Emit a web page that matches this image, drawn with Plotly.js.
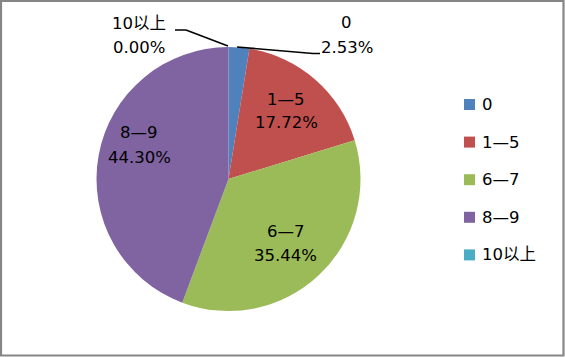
<!DOCTYPE html>
<html>
<head>
<meta charset="utf-8">
<script src="https://cdn.plot.ly/plotly-3.0.1.min.js"></script>
<style>
  html, body { margin: 0; padding: 0; background: #fff; }
  #chart { width: 565px; height: 357px; }
</style>
</head>
<body>
<div id="chart"></div>
<script>
const labels = ['0', '1—5', '6—7', '8—9', '10以上'];
const values = [2, 14, 28, 35, 0];
const colors = ['#4F81BD', '#C0504D', '#9BBB59', '#8064A2', '#4BACC6'];

const W = 565, H = 357;
const FONT = 'DejaVu Sans, Noto Sans CJK SC, sans-serif';
const FS = 16.5;
const px = x => x / W;
const py = y => 1 - y / H;

const total = values.reduce((a, b) => a + b, 0);
const pctText = v => (v / total * 100).toFixed(2) + '%';

const trace = {
  type: 'pie',
  labels: labels,
  values: values,
  sort: false,
  direction: 'clockwise',
  rotation: 0,
  marker: { colors: colors, line: { width: 0 } },
  textinfo: 'none',
  textposition: 'none',
  domain: { x: [px(96.5), px(360.5)], y: [py(311), py(47)] },
  showlegend: false,
  hoverinfo: 'label+percent'
};

const annotations = [];
const shapes = [];

// data labels: label line and percentage line, placed like the reference
const labelPlaces = [
  { i: 0, x1: 346.5, y1: 23, x2: 346.5, y2: 48 },
  { i: 1, x1: 285.5, y1: 99, x2: 286, y2: 122 },
  { i: 2, x1: 285.5, y1: 231, x2: 285, y2: 255 },
  { i: 3, x1: 138.5, y1: 132, x2: 139.5, y2: 157 },
  { i: 4, x1: 139, y1: 24, x2: 139, y2: 48 }
];
labelPlaces.forEach(o => {
  annotations.push({ xref: 'paper', yref: 'paper', x: px(o.x1), y: py(o.y1), xanchor: 'center', yanchor: 'middle',
    text: labels[o.i], showarrow: false, font: { family: FONT, size: FS, color: '#000' } });
  annotations.push({ xref: 'paper', yref: 'paper', x: px(o.x2), y: py(o.y2), xanchor: 'center', yanchor: 'middle',
    text: pctText(values[o.i]), showarrow: false, font: { family: FONT, size: FS, color: '#000' } });
});

// leader lines
const leader = (pts) => {
  for (let k = 0; k < pts.length - 1; k++) {
    shapes.push({ type: 'line', xref: 'paper', yref: 'paper',
      x0: px(pts[k][0]), y0: py(pts[k][1]), x1: px(pts[k + 1][0]), y1: py(pts[k + 1][1]),
      line: { color: '#000', width: 1.5 } });
  }
};
leader([[237, 47], [313, 53.5], [320, 53.5]]);
leader([[175, 30], [186, 30], [228, 46]]);

// legend
labels.forEach((lab, i) => {
  const cy = 104.5 + i * 37.6;
  shapes.push({ type: 'rect', xref: 'paper', yref: 'paper',
    x0: px(464), x1: px(475), y0: py(cy + 5.5), y1: py(cy - 5.5),
    fillcolor: colors[i], line: { width: 0 } });
  annotations.push({ xref: 'paper', yref: 'paper', x: px(480), y: py(cy), xanchor: 'left', yanchor: 'middle',
    text: lab, showarrow: false, font: { family: FONT, size: FS, color: '#000' } });
});

// chart border
shapes.push({ type: 'rect', xref: 'paper', yref: 'paper', x0: px(1), x1: px(563.5), y0: py(355.5), y1: py(1),
  line: { color: '#868686', width: 2.2 }, fillcolor: 'rgba(0,0,0,0)' });

const layout = {
  width: W, height: H,
  margin: { l: 0, r: 0, t: 0, b: 0 },
  paper_bgcolor: '#fff',
  showlegend: false,
  font: { family: FONT, size: FS, color: '#000' },
  annotations: annotations,
  shapes: shapes
};

Plotly.newPlot('chart', [trace], layout, { displayModeBar: false, staticPlot: true });
</script>
</body>
</html>
